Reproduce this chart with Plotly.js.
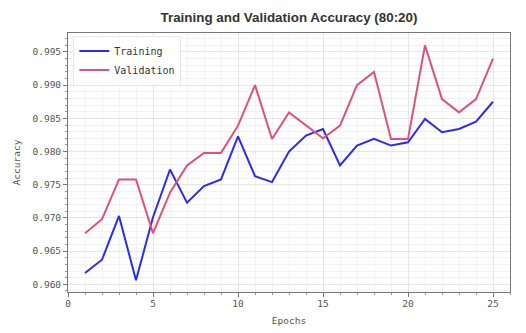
<!DOCTYPE html>
<html>
<head>
<meta charset="utf-8">
<script src="https://cdn.plot.ly/plotly-3.0.1.min.js"></script>
<style>html,body{margin:0;padding:0;background:#fff;}#chart{width:526px;height:333px;}</style>
</head>
<body>
<div id="chart"></div>
<script>
var epochs = [1,2,3,4,5,6,7,8,9,10,11,12,13,14,15,16,17,18,19,20,21,22,23,24,25];
var trainAcc = [0.9617,0.9637,0.9703,0.9606,0.9701,0.9773,0.9723,0.9748,0.9758,0.9823,0.9763,0.9754,0.9800,0.9824,0.9834,0.9779,0.9809,0.9819,0.9809,0.9814,0.9849,0.9829,0.9834,0.9845,0.9875];
var valAcc = [0.9677,0.9698,0.9758,0.9758,0.9677,0.9738,0.9779,0.9798,0.9798,0.9839,0.9900,0.9819,0.9859,0.9840,0.9820,0.9839,0.9900,0.9920,0.9819,0.9819,0.9960,0.9879,0.9859,0.9879,0.9940];
var seriesNames = ['Training','Validation'];

var mono = 'DejaVu Sans Mono, monospace';
var data = [
  {x: epochs, y: trainAcc, name: seriesNames[0], mode: 'lines', line: {color: '#2b2bf2', width: 2}},
  {x: epochs, y: valAcc, name: seriesNames[1], mode: 'lines', line: {color: '#e0507e', width: 2}}
];
var axisCommon = {
  showline: true, mirror: true, linecolor: '#777', linewidth: 1,
  ticks: 'outside', ticklen: 4, tickcolor: '#777', tickwidth: 1,
  showgrid: true, gridcolor: '#e6e6e6', gridwidth: 1,
  zeroline: false,
  tickfont: {family: mono, size: 9.5, color: '#555'}
};
var layout = {
  width: 526, height: 333,
  margin: {l: 68, r: 16, t: 33, b: 41},
  paper_bgcolor: '#fff', plot_bgcolor: '#fff',
  title: {text: 'Training and Validation Accuracy (80:20)', xref: 'paper', x: 0.5, xanchor: 'center', y: 0.948, yanchor: 'middle',
          font: {family: 'Liberation Sans, Arial, sans-serif', size: 13.4, color: '#333', weight: 'bold'}},
  xaxis: Object.assign({}, axisCommon, {
    range: [0, 26], dtick: 5, tick0: 0, ticklabelstandoff: -1,
    minor: {dtick: 1, ticks: 'outside', ticklen: 2, tickcolor: '#999', showgrid: true, gridcolor: '#f2f2f2'},
    title: {text: 'Epochs', font: {family: mono, size: 9.5, color: '#555'}, standoff: 8}
  }),
  yaxis: Object.assign({}, axisCommon, {
    range: [0.95884, 0.99786], dtick: 0.005, tick0: 0.96, tickformat: '.3f',
    minor: {dtick: 0.001, ticks: 'outside', ticklen: 2, tickcolor: '#999', showgrid: true, gridcolor: '#f2f2f2'},
    title: {text: 'Accuracy', font: {family: mono, size: 9.5, color: '#555'}, standoff: 10}
  }),
  legend: {x: 0.012, y: 0.99, xanchor: 'left', yanchor: 'top', bgcolor: 'rgba(255,255,255,0.9)',
           bordercolor: '#e6e6e6', borderwidth: 1, font: {family: mono, size: 10, color: '#333'},
           tracegroupgap: 0, itemwidth: 30},
  showlegend: true
};
Plotly.newPlot('chart', data, layout, {displayModeBar: false, staticPlot: true});
</script>
</body>
</html>
